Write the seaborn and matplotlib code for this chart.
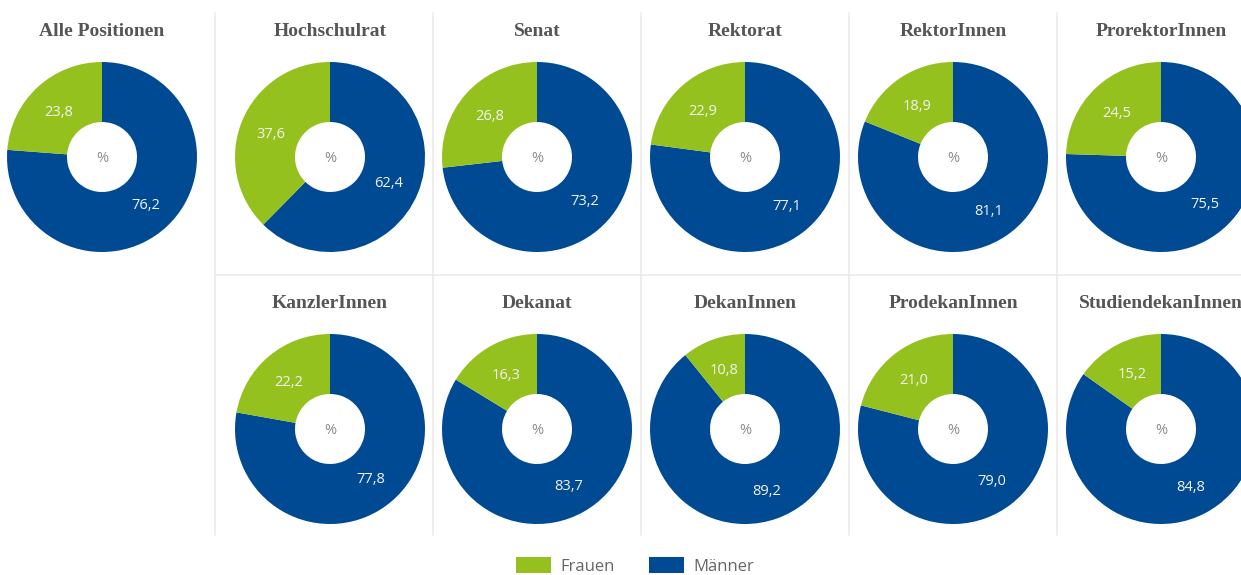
import matplotlib
matplotlib.use("Agg")
import matplotlib.pyplot as plt
from matplotlib.patches import Patch
from matplotlib.lines import Line2D
import numpy as np
import seaborn as sns

# Gender shares (%) of university leadership positions
categories = ["Alle Positionen", "Hochschulrat", "Senat", "Rektorat", "RektorInnen",
              "ProrektorInnen", "KanzlerInnen", "Dekanat", "DekanInnen",
              "ProdekanInnen", "StudiendekanInnen"]
frauen = [23.8, 37.6, 26.8, 22.9, 18.9, 24.5, 22.2, 16.3, 10.8, 21.0, 15.2]
maenner = [76.2, 62.4, 73.2, 77.1, 81.1, 75.5, 77.8, 83.7, 89.2, 79.0, 84.8]
series_names = ["Frauen", "Männer"]

# grid cell (row, column) of each category
cells = [(0, 0), (0, 1), (0, 2), (0, 3), (0, 4), (0, 5),
         (1, 1), (1, 2), (1, 3), (1, 4), (1, 5)]

sns.set_theme(style="white")
plt.rcParams["font.family"] = ["Open Sans", "DejaVu Sans"]

GREEN = "#95c11f"
BLUE = "#004a93"
GRID = "#ebebeb"
TITLE = "#555555"

W, H = 1241, 575
fig = plt.figure(figsize=(W / 100, H / 100), dpi=100)
fig.patch.set_facecolor("white")

col_cx = [102, 330, 537, 745, 953, 1161]
row_cy = [157, 429]
row_ty = [31, 303]
R = 95          # outer radius in px
HOLE = 35       # hole radius in px


def fx(px):
    return px / W


def fy(py):
    return 1 - py / H


def fmt(v):
    return f"{v:.1f}".replace(".", ",")


# separator lines of the grid
for x in [215, 433, 641, 849, 1057]:
    fig.add_artist(Line2D([fx(x), fx(x)], [fy(13), fy(535)],
                          color=GRID, lw=1.2, transform=fig.transFigure))
fig.add_artist(Line2D([fx(215), 1.0], [fy(275), fy(275)],
                      color=GRID, lw=1.2, transform=fig.transFigure))

width = 1 - HOLE / R
for name, f, m, (r, c) in zip(categories, frauen, maenner, cells):
    cx, cy = col_cx[c], row_cy[r]
    ax = fig.add_axes([fx(cx - R), fy(cy + R), 2 * R / W, 2 * R / H])
    wedges, _ = ax.pie([m, f], colors=[BLUE, GREEN], startangle=90,
                       counterclock=False, radius=1,
                       wedgeprops=dict(width=width, linewidth=0))
    ax.set_xlim(-1, 1)
    ax.set_ylim(-1, 1)
    ax.set_aspect("equal")
    ax.axis("off")
    # value labels at the middle of each ring segment
    total = m + f
    start = 0.0
    lr = (1 + HOLE / R) / 2 * 0.98
    for v in [m, f]:
        mid = (start + v / 2) / total * 2 * np.pi
        ax.text(lr * np.sin(mid), lr * np.cos(mid), fmt(v), ha="center",
                va="center_baseline", color="#f2f2f2", fontsize=10.5)
        start += v
    ax.text(0, 0, "%", ha="center", va="center_baseline", color="#8c8c8c",
            fontsize=10.5)
    fig.text(fx(cx), fy(row_ty[r]), name, ha="center", va="center",
             fontsize=14, fontweight="bold", color=TITLE,
             family=["Liberation Serif", "DejaVu Serif"])

handles = [Patch(facecolor=GREEN, edgecolor="none"),
           Patch(facecolor=BLUE, edgecolor="none")]
fig.legend(handles, series_names, loc="center", bbox_to_anchor=(fx(635), fy(566)),
           ncol=2, frameon=False, fontsize=12, handlelength=2.1, handleheight=1.1,
           handletextpad=0.55, columnspacing=2.1, labelcolor="#666666",
           borderpad=0, borderaxespad=0)

fig.savefig("out.png", dpi=100, facecolor="white")
